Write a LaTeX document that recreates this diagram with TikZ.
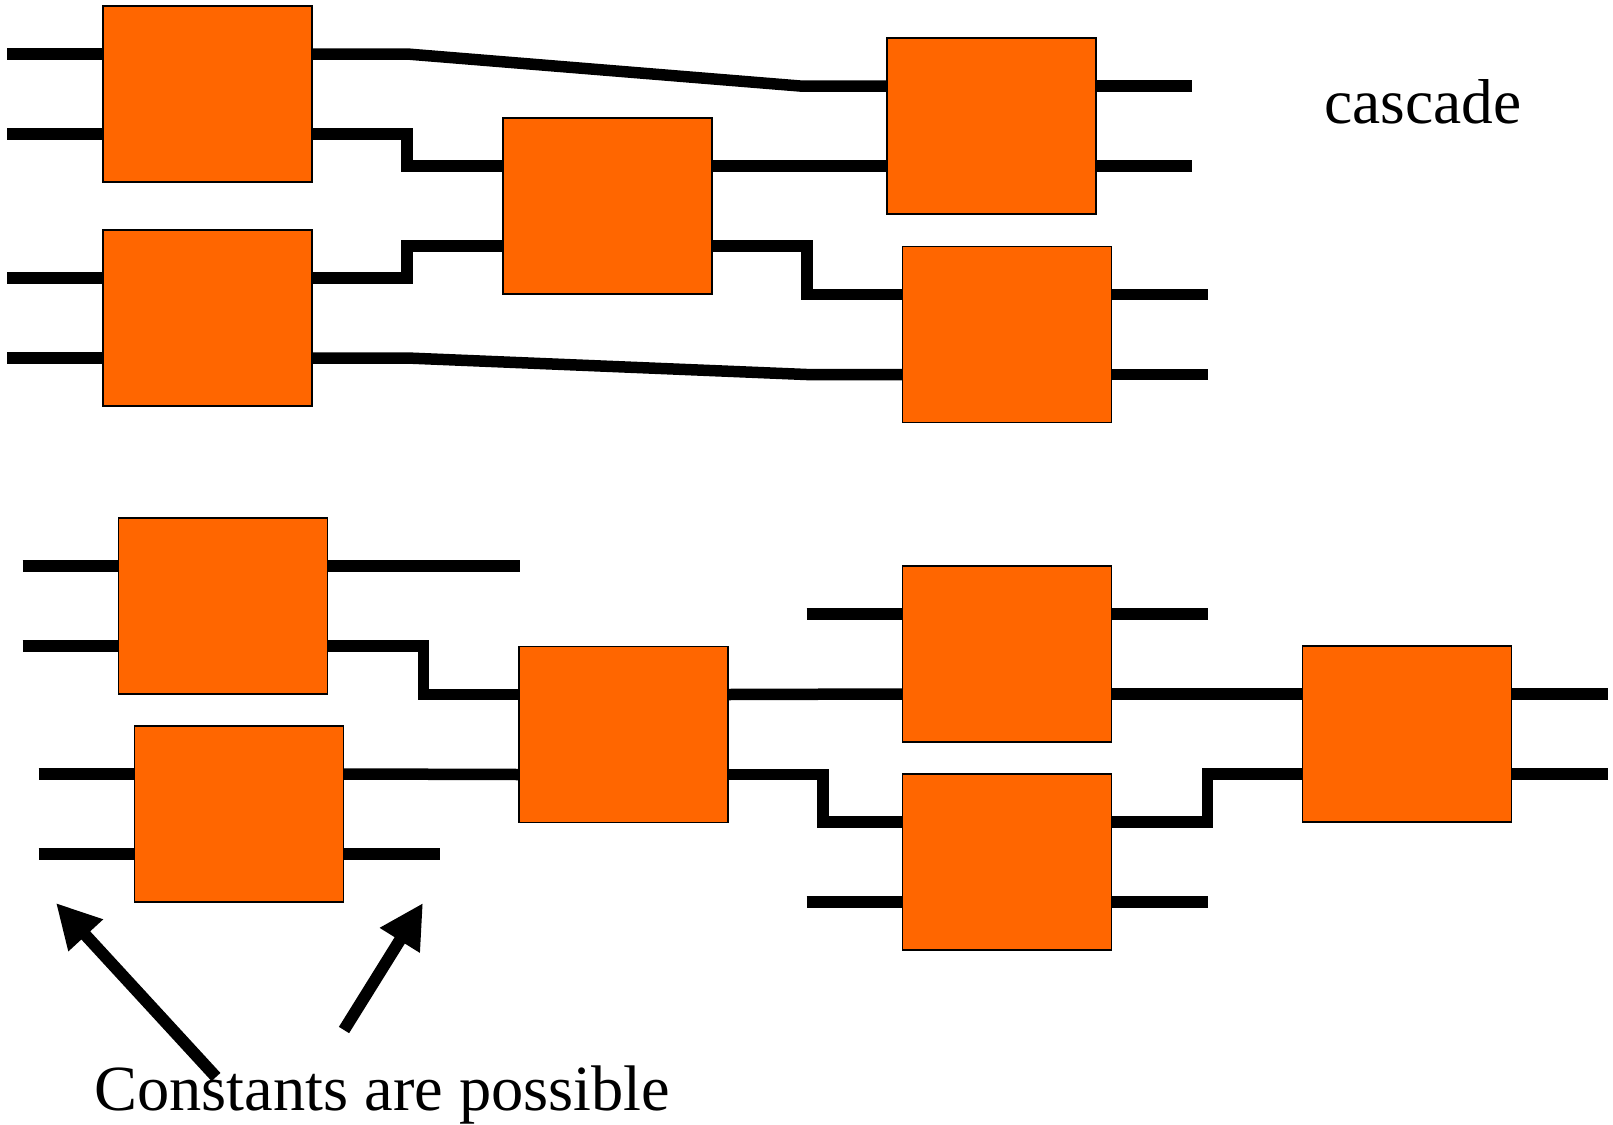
\documentclass[tikz,border=0pt]{standalone}
\usepackage{fontspec}
\setmainfont{Liberation Serif}
\usetikzlibrary{calc,arrows.meta,backgrounds}
\definecolor{boxorange}{HTML}{FF6600}
\begin{document}
\begin{tikzpicture}[x=0.5pt,y=-0.5pt,
  blk/.style={draw=black,line width=0.8pt,fill=boxorange,minimum width=104.5pt,minimum height=88pt,inner sep=0pt,outer sep=0pt},
  wire/.style={line width=5.75pt,line cap=butt,line join=miter},
  pointer/.style={line width=6pt,-{Triangle[length=22pt,width=22pt]}},
  lbl/.style={inner sep=0pt,anchor=base west,font=\fontsize{31.7}{36}\selectfont}]
\useasboundingbox (0,0) rectangle (1613,1125);
% boxes
\node[blk] (A)  at (207.5,94) {};
\node[blk] (A2) at (207.5,318) {};
\node[blk] (B)  at (607.5,206) {};
\node[blk] (C)  at (991.5,126) {};
\node[blk] (D)  at (1007,334.5) {};
\node[blk] (E)  at (223,606) {};
\node[blk] (F)  at (239,814) {};
\node[blk] (G)  at (623.5,734.5) {};
\node[blk] (H)  at (1007,654) {};
\node[blk] (I)  at (1007,862) {};
\node[blk] (J)  at (1407,734) {};
% labels
\node[lbl] (casc)  at (1324,123) {cascade};
\node[lbl,font=\fontsize{32.2}{36}\selectfont] (const) at (94,1110) {Constants are possible};
\begin{scope}[on background layer]
% ---- top cascade ----
\foreach \b in {A,A2} {
  \draw[wire] ($(\b.west)+(-96,-40)$) -- ($(\b.west)+(0,-40)$);
  \draw[wire] ($(\b.west)+(-96,40)$) -- ($(\b.west)+(0,40)$);
}
\draw[wire] ($(A.east)+(0,-40)$) -- ++(95,0) -- ($(C.west)+(-87,-40)$) -- ($(C.west)+(0,-40)$);
\draw[wire] ($(A.east)+(0,40)$) -- ++(95,0) |- ($(B.west)+(0,-40)$);
\draw[wire] ($(A2.east)+(0,-40)$) -- ++(95,0) |- ($(B.west)+(0,40)$);
\draw[wire] ($(A2.east)+(0,40)$) -- ++(95,0) -- ($(D.west)+(-96,40)$) -- ($(D.west)+(0,40)$);
\draw[wire] ($(B.east)+(0,-40)$) -- ($(C.west)+(0,40)$);
\draw[wire] ($(B.east)+(0,40)$) -- ++(95,0) |- ($(D.west)+(0,-40)$);
\foreach \b in {C,D} {
  \draw[wire] ($(\b.east)+(0,-40)$) -- ++(96,0);
  \draw[wire] ($(\b.east)+(0,40)$) -- ++(96,0);
}
% ---- bottom cascade ----
\foreach \b in {E,F} {
  \draw[wire] ($(\b.west)+(-96,-40)$) -- ($(\b.west)+(0,-40)$);
  \draw[wire] ($(\b.west)+(-96,40)$) -- ($(\b.west)+(0,40)$);
}
\draw[wire] ($(E.east)+(0,-40)$) -- ++(192,0);
\draw[wire] ($(E.east)+(0,40)$) -- ++(96,0) |- ($(G.west)+(0,-40)$);
\draw[wire] ($(F.east)+(0,-40)$) -- ($(G.west)+(0,40)$);
\draw[wire] ($(F.east)+(0,40)$) -- ++(96,0);
\draw[wire] ($(G.east)+(0,-40)$) -- ($(H.west)+(0,40)$);
\draw[wire] ($(G.east)+(0,40)$) -- ++(95,0) |- ($(I.west)+(0,-40)$);
\draw[wire] ($(H.west)+(-96,-40)$) -- ($(H.west)+(0,-40)$);
\draw[wire] ($(I.west)+(-96,40)$) -- ($(I.west)+(0,40)$);
\draw[wire] ($(H.east)+(0,-40)$) -- ++(96,0);
\draw[wire] ($(H.east)+(0,40)$) -- ($(J.west)+(0,-40)$);
\draw[wire] ($(I.east)+(0,-40)$) -- ++(96,0) |- ($(J.west)+(0,40)$);
\draw[wire] ($(I.east)+(0,40)$) -- ++(96,0);
\draw[wire] ($(J.east)+(0,-40)$) -- ++(96,0);
\draw[wire] ($(J.east)+(0,40)$) -- ++(96,0);
\end{scope}
% arrows
\coordinate (la1) at (216,1077);
\coordinate (la2) at (56,903);
\coordinate (ra1) at (344,1030);
\coordinate (ra2) at (423,903);
\draw[pointer] (la1) -- (la2);
\draw[pointer] (ra1) -- (ra2);
\end{tikzpicture}
\end{document}
